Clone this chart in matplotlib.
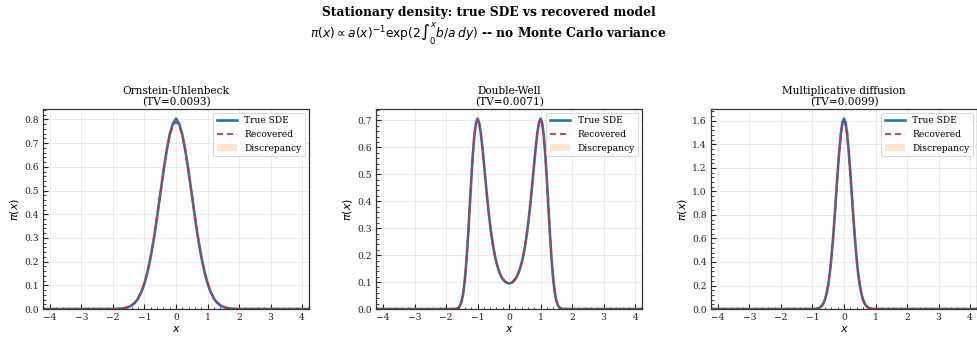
import numpy as np
import matplotlib
matplotlib.use("Agg")
import matplotlib.pyplot as plt
from matplotlib.ticker import AutoMinorLocator

plt.rcParams['font.family'] = ['DejaVu Serif']
plt.rcParams['mathtext.fontset'] = 'dejavusans'

# ---------------- data ----------------
titles = ["Ornstein-Uhlenbeck", "Double-Well", "Multiplicative diffusion"]
tv_values = [0.0093, 0.0071, 0.0099]
x_range = [-4.22, 4.22]

# Ornstein-Uhlenbeck, x from -2 to 2 step 0.1
ou_x = np.round(np.linspace(-2.0, 2.0, 41), 3)
ou_true = [0.0003, 0.0006, 0.0012, 0.0025, 0.0048, 0.009, 0.016, 0.027, 0.045, 0.071,
           0.108, 0.158, 0.222, 0.299, 0.388, 0.484, 0.579, 0.666, 0.737, 0.782,
           0.804,
           0.782, 0.737, 0.666, 0.579, 0.484, 0.388, 0.299, 0.222, 0.158, 0.108,
           0.071, 0.045, 0.027, 0.016, 0.009, 0.0048, 0.0025, 0.0012, 0.0006, 0.0003]
ou_rec = [0.0003, 0.0007, 0.0014, 0.0028, 0.0054, 0.010, 0.017, 0.029, 0.047, 0.074,
          0.112, 0.163, 0.227, 0.304, 0.392, 0.486, 0.578, 0.662, 0.731, 0.774,
          0.790,
          0.774, 0.731, 0.662, 0.578, 0.486, 0.392, 0.304, 0.227, 0.163, 0.112,
          0.074, 0.047, 0.029, 0.017, 0.010, 0.0054, 0.0028, 0.0014, 0.0007, 0.0003]

# Double-well, x from -2 to 2 step 0.05
dw_x = np.round(np.linspace(-2.0, 2.0, 81), 3)
dw_true = [0, 0, 0, 0, 0, 0.0001, 0.0006, 0.0019, 0.0054, 0.0138,
           0.031, 0.062, 0.112, 0.182, 0.272, 0.374, 0.479, 0.573, 0.645, 0.690,
           0.707, 0.692, 0.656, 0.604, 0.544, 0.481, 0.419, 0.3618, 0.311, 0.2665,
           0.229, 0.1976, 0.172, 0.1512, 0.1346, 0.1215, 0.1116, 0.1043, 0.0993, 0.0964,
           0.0954,
           0.0964, 0.0993, 0.1043, 0.1116, 0.1215, 0.1346, 0.1512, 0.172, 0.1976, 0.229,
           0.2665, 0.311, 0.3618, 0.419, 0.481, 0.544, 0.604, 0.656, 0.692, 0.707,
           0.690, 0.645, 0.573, 0.479, 0.374, 0.272, 0.182, 0.112, 0.062, 0.031,
           0.0138, 0.0054, 0.0019, 0.0006, 0.0001, 0, 0, 0, 0, 0]
dw_rec = [0, 0, 0, 0, 0, 0.0001, 0.0007, 0.0021, 0.0058, 0.0144,
          0.032, 0.063, 0.113, 0.183, 0.272, 0.373, 0.477, 0.570, 0.642, 0.687,
          0.704, 0.690, 0.655, 0.604, 0.545, 0.483, 0.421, 0.364, 0.313, 0.268,
          0.230, 0.1984, 0.1726, 0.1517, 0.1350, 0.1219, 0.1120, 0.1047, 0.0997, 0.0968,
          0.0958,
          0.0968, 0.0997, 0.1047, 0.1120, 0.1219, 0.1350, 0.1517, 0.1726, 0.1984, 0.230,
          0.268, 0.313, 0.364, 0.421, 0.483, 0.545, 0.604, 0.655, 0.690, 0.704,
          0.687, 0.642, 0.570, 0.477, 0.373, 0.272, 0.183, 0.113, 0.063, 0.032,
          0.0144, 0.0058, 0.0021, 0.0007, 0.0001, 0, 0, 0, 0, 0]

# Multiplicative diffusion, x from -1 to 1 step 0.05
md_x = np.round(np.linspace(-1.0, 1.0, 41), 3)
md_true = [0.0004, 0.0009, 0.0020, 0.0041, 0.0082, 0.0156, 0.028, 0.049, 0.083, 0.133,
           0.205, 0.304, 0.432, 0.589, 0.770, 0.967, 1.164, 1.345, 1.492, 1.587,
           1.620,
           1.587, 1.492, 1.345, 1.164, 0.967, 0.770, 0.589, 0.432, 0.304, 0.205,
           0.133, 0.083, 0.049, 0.028, 0.0156, 0.0082, 0.0041, 0.0020, 0.0009, 0.0004]
md_rec = [0.0004, 0.0010, 0.0021, 0.0043, 0.0086, 0.0163, 0.029, 0.051, 0.086, 0.137,
          0.211, 0.311, 0.440, 0.596, 0.775, 0.967, 1.158, 1.333, 1.474, 1.564,
          1.595,
          1.564, 1.474, 1.333, 1.158, 0.967, 0.775, 0.596, 0.440, 0.311, 0.211,
          0.137, 0.086, 0.051, 0.029, 0.0163, 0.0086, 0.0043, 0.0021, 0.0010, 0.0004]

panels = [(ou_x, ou_true, ou_rec), (dw_x, dw_true, dw_rec), (md_x, md_true, md_rec)]

# ---------------- figure ----------------
fig = plt.figure(figsize=(9.77, 3.37), dpi=100)
lefts = [0.044, 0.3849, 0.7277]
w, b, h = 0.2723, 0.083, 0.5935

fig.suptitle("Stationary density: true SDE vs recovered model\n"
             r"$\pi(x) \propto a(x)^{-1} \exp(2\int_0^x b/a\,dy)$ -- no Monte Carlo variance",
             fontsize=8.8, fontweight='bold', y=0.982, linespacing=1.12)

for i, (xs, yt, yr) in enumerate(panels):
    ax = fig.add_axes([lefts[i], b, w, h])
    xs_full = np.concatenate([[x_range[0]], xs, [x_range[1]]])
    yt_full = np.concatenate([[0.0], yt, [0.0]])
    yr_full = np.concatenate([[0.0], yr, [0.0]])
    ax.fill_between(xs_full, yt_full, yr_full, color='#ff7f0e', alpha=0.2,
                    linewidth=0, label='Discrepancy')
    ax.plot(xs_full, yt_full, color='#1f77b4', lw=1.9, label='True SDE')
    ax.plot(xs_full, yr_full, color='#e3262b', lw=1.25, ls=(0, (3.5, 2.2)), label='Recovered')
    ymax = max(max(yt), max(yr))
    ax.set_xlim(*x_range)
    ax.set_ylim(0, 1.05 * ymax)
    ax.set_xticks(np.arange(-4, 5, 1))
    ax.set_title(f"{titles[i]}\n(TV={tv_values[i]:.4f})", fontsize=7.6, pad=3, linespacing=1.05)
    ax.set_xlabel(r"$x$", fontsize=8, labelpad=1)
    ax.set_ylabel(r"$\pi(x)$", fontsize=8, labelpad=2)
    ax.grid(True, color='#dddddd', lw=0.6, alpha=0.7)
    ax.set_axisbelow(True)
    ax.xaxis.set_minor_locator(AutoMinorLocator(5))
    ax.yaxis.set_minor_locator(AutoMinorLocator(5))
    ax.tick_params(which='both', direction='in', labelsize=6.6, colors='#222222')
    ax.tick_params(which='major', length=3.5, width=0.8, pad=3)
    ax.tick_params(which='minor', length=1.8, width=0.6)
    for s in ax.spines.values():
        s.set_color('#333333')
        s.set_linewidth(0.9)
    handles, labels = ax.get_legend_handles_labels()
    order = [labels.index('True SDE'), labels.index('Recovered'), labels.index('Discrepancy')]
    leg = ax.legend([handles[j] for j in order], [labels[j] for j in order],
                    loc='upper right', fontsize=6.6, frameon=True, fancybox=True,
                    framealpha=0.9, edgecolor='#cccccc', borderpad=0.4,
                    handlelength=2.2, handletextpad=0.8, labelspacing=0.5,
                    borderaxespad=0.4)
    leg.get_frame().set_linewidth(0.6)

fig.savefig("out.png", dpi=100)
